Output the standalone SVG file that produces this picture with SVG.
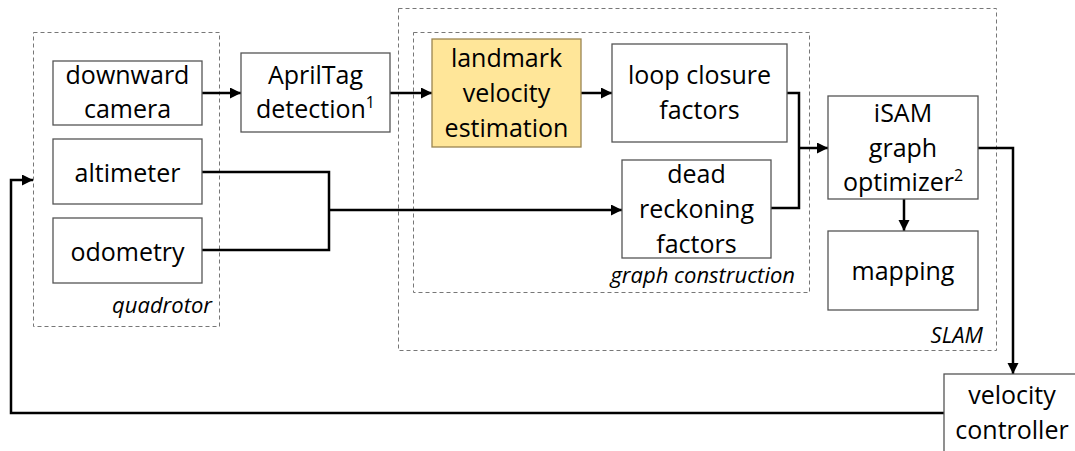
<svg xmlns="http://www.w3.org/2000/svg" width="1075" height="451" viewBox="0 0 1075 451">
  <defs>
    <marker id="arrow" markerUnits="userSpaceOnUse" markerWidth="12" markerHeight="12" refX="11" refY="5.5" orient="auto">
      <path d="M0,0 L11,5.5 L0,11 Z" fill="#000"/>
    </marker>
    <style>
      .box { fill: #fff; stroke: #555; stroke-width: 1.3; }
      .hl { fill: #FFE699; stroke: #9a8550; stroke-width: 1.3; }
      .group { fill: none; stroke: #777; stroke-width: 1; stroke-dasharray: 4 3; }
      .lbl { font-family: "Open Sans", "Liberation Sans", sans-serif; font-size: 25px; fill: #000; text-anchor: middle; }
      .cap { font-family: "Open Sans", "Liberation Sans", sans-serif; font-size: 22px; font-style: italic; fill: #000; text-anchor: end; }
      .wire { fill: none; stroke: #000; stroke-width: 2.5; }
      .arr { marker-end: url(#arrow); }
    </style>
  </defs>
  <rect width="1075" height="451" fill="#fff"/>

  <!-- grouping frames -->
  <g id="quadrotor">
    <rect class="group" x="33.5" y="32.5" width="186" height="294"/>
    <text class="cap" x="212" y="313">quadrotor</text>
  </g>
  <g id="slam">
    <rect class="group" x="398.5" y="8.5" width="598" height="342"/>
    <text class="cap" x="983" y="343">SLAM</text>
  </g>
  <g id="graph-construction">
    <rect class="group" x="413.5" y="32.5" width="396" height="260"/>
    <text class="cap" x="795" y="283">graph construction</text>
  </g>

  <!-- connectors -->
  <g id="connectors">
    <path class="wire arr" d="M202,93 H241"/>
    <path class="wire arr" d="M390,93 H432"/>
    <path class="wire arr" d="M581,93 H612"/>
    <path class="wire" d="M202,172 H329 V250 H202"/>
    <path class="wire arr" d="M329,210 H622"/>
    <path class="wire" d="M787,93 H799 V208 H771"/>
    <path class="wire arr" d="M799,148 H828"/>
    <path class="wire arr" d="M904,199 V231"/>
    <path class="wire arr" d="M978,148 H1013 V374"/>
    <path class="wire arr" d="M944,413 H11 V180 H33"/>
  </g>

  <!-- nodes -->
  <g id="downward-camera">
    <rect class="box" x="53" y="61" width="149" height="64"/>
    <text class="lbl" x="127.5" y="84">downward</text>
    <text class="lbl" x="127.5" y="118">camera</text>
  </g>
  <g id="altimeter">
    <rect class="box" x="53" y="139" width="149" height="65"/>
    <text class="lbl" x="127.5" y="182">altimeter</text>
  </g>
  <g id="odometry">
    <rect class="box" x="53" y="218" width="149" height="65"/>
    <text class="lbl" x="127.5" y="261">odometry</text>
  </g>
  <g id="apriltag-detection">
    <rect class="box" x="241" y="53" width="149" height="79"/>
    <text class="lbl" x="315.5" y="84">AprilTag</text>
    <text class="lbl" x="315.5" y="118">detection<tspan font-size="16" dy="-10">1</tspan></text>
  </g>
  <g id="landmark-velocity-estimation">
    <rect class="hl" x="432" y="39" width="149" height="108"/>
    <text class="lbl" x="506.5" y="67">landmark</text>
    <text class="lbl" x="506.5" y="102">velocity</text>
    <text class="lbl" x="506.5" y="137">estimation</text>
  </g>
  <g id="loop-closure-factors">
    <rect class="box" x="612" y="44" width="175" height="98"/>
    <text class="lbl" x="699.5" y="84">loop closure</text>
    <text class="lbl" x="699.5" y="119">factors</text>
  </g>
  <g id="dead-reckoning-factors">
    <rect class="box" x="622" y="160" width="149" height="98"/>
    <text class="lbl" x="696.5" y="183">dead</text>
    <text class="lbl" x="696.5" y="218">reckoning</text>
    <text class="lbl" x="696.5" y="253">factors</text>
  </g>
  <g id="isam-graph-optimizer">
    <rect class="box" x="828" y="96" width="150" height="103"/>
    <text class="lbl" x="903" y="122">iSAM</text>
    <text class="lbl" x="903" y="157">graph</text>
    <text class="lbl" x="903" y="191">optimizer<tspan font-size="16" dy="-10">2</tspan></text>
  </g>
  <g id="mapping">
    <rect class="box" x="828" y="231" width="150" height="79"/>
    <text class="lbl" x="903" y="280">mapping</text>
  </g>
  <g id="velocity-controller">
    <rect class="box" x="944" y="374" width="140" height="90"/>
    <text class="lbl" x="1012" y="404">velocity</text>
    <text class="lbl" x="1012" y="439">controller</text>
  </g>
</svg>
